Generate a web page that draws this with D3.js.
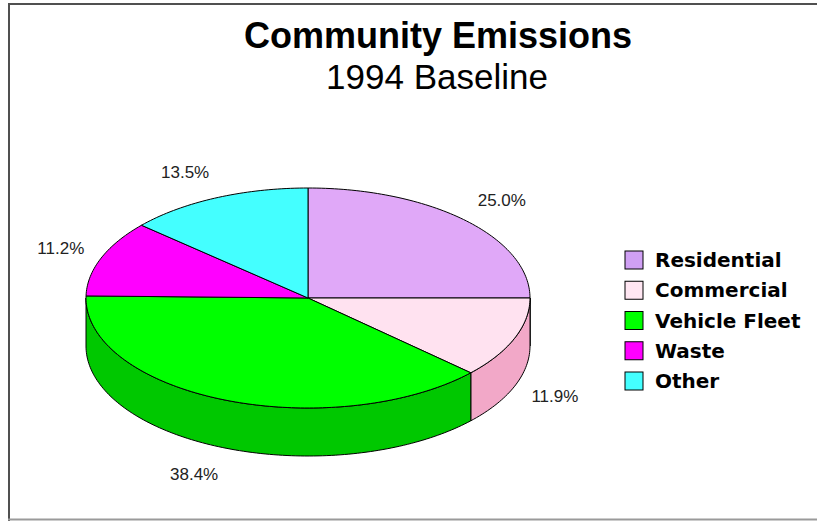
<!DOCTYPE html>
<html lang="en">
<head>
<meta charset="utf-8">
<title>Community Emissions</title>
<style>
body{
  margin: 0;
  background: #fff;
}
.title{
  font: bold 36px "Liberation Sans", Arial, sans-serif;
  text-anchor: middle;
}
.subtitle{
  font: 35px "Liberation Sans", Arial, sans-serif;
  text-anchor: middle;
}
.pct{
  font: 17px "Liberation Sans", Arial, sans-serif;
  fill: #222;
}
.legend text{
  font: bold 20px "DejaVu Sans", sans-serif;
}
</style>
</head>
<body>
<div id="chart"></div>
<script src="https://cdn.jsdelivr.net/npm/d3@7"></script>
<script>
// data
var categories = ["Residential", "Commercial", "Vehicle Fleet", "Waste", "Other"];
var shares = [25.0, 11.9, 38.4, 11.2, 13.5];
var pctLabels = ["25.0%", "11.9%", "38.4%", "11.2%", "13.5%"];
var topColors = ["#e0a8f8", "#ffe2f0", "#00ff00", "#ff00ff", "#44ffff"];
var sideColors = ["#b884d0", "#f2a8c8", "#00c800", "#c800c8", "#30d0d0"];
var swatchColors = ["#d0a0f4", "#ffe6f2", "#00ff00", "#ff00ff", "#44ffff"];

var W = 817, H = 521;
var cx = 308, cy = 298, rx = 222, ry = 110, depth = 48;

var svg = d3.select("#chart").append("svg")
  .attr("width", W)
  .attr("height", H);

// frame
svg.append("line").attr("x1", 8).attr("x2", W).attr("y1", 4).attr("y2", 4)
  .attr("stroke", "#505050").attr("stroke-width", 2);
svg.append("line").attr("x1", 9).attr("x2", 9).attr("y1", 4).attr("y2", H)
  .attr("stroke", "#505050").attr("stroke-width", 2);
svg.append("line").attr("x1", 8).attr("x2", W).attr("y1", 519.5).attr("y2", 519.5)
  .attr("stroke", "#9a9a9a").attr("stroke-width", 2);

svg.append("text").attr("class", "title")
  .attr("x", 438).attr("y", 48).text("Community Emissions");
svg.append("text").attr("class", "subtitle")
  .attr("x", 437).attr("y", 89).text("1994 Baseline");

// ellipse mapping through scales
var xS = d3.scaleLinear().domain([-1, 1]).range([cx - rx, cx + rx]);
var yS = d3.scaleLinear().domain([-1, 1]).range([cy + ry, cy - ry]);

var arcs = d3.pie().sort(null).value((d) => d)(shares);

function rim(a0, a1, dy) {
  var n = Math.max(2, Math.ceil((a1 - a0) / 0.02));
  return d3.range(n + 1).map((i) => {
    var a = a0 + (a1 - a0) * i / n;
    return [xS(Math.sin(a)), yS(Math.cos(a)) + dy];
  });
}
var line = d3.line();

// side walls (front half only)
var sideG = svg.append("g");
arcs.forEach((d, i) => {
  var a0 = Math.max(d.startAngle, Math.PI / 2);
  var a1 = Math.min(d.endAngle, Math.PI * 1.5);
  if (a0 >= a1) return;
  var pts = rim(a0, a1, 0).concat(rim(a0, a1, depth).reverse());
  sideG.append("path")
    .attr("d", line(pts) + "Z")
    .attr("fill", sideColors[i])
    .attr("stroke", "#000")
    .attr("stroke-width", 1);
});

// top face
var faceG = svg.append("g");
arcs.forEach((d, i) => {
  var pts = [[xS(0), yS(0)]].concat(rim(d.startAngle, d.endAngle, 0));
  faceG.append("path")
    .attr("d", line(pts) + "Z")
    .attr("fill", topColors[i])
    .attr("stroke", "#000")
    .attr("stroke-width", 1);
});

// percentage labels
var lx = d3.scaleLinear().domain([-1, 1]).range([cx - rx - 18, cx + rx + 18]);
var ly = d3.scaleLinear().domain([-1, 1]).range([cy + ry + 28, cy - ry - 28]);
arcs.forEach((d, i) => {
  var m = (d.startAngle + d.endAngle) / 2;
  var s = Math.sin(m), c = Math.cos(m);
  svg.append("text").attr("class", "pct")
    .attr("x", lx(s))
    .attr("y", ly(c) + (c < 0 ? depth : 0))
    .attr("dy", "0.35em")
    .attr("text-anchor", s > 0.3 ? "start" : (s < -0.3 ? "end" : "middle"))
    .text(pctLabels[i]);
});

// legend
var legY = d3.scalePoint().domain(categories).range([260, 381]);
var legend = svg.append("g").attr("class", "legend");
var rows = legend.selectAll("g").data(categories).enter().append("g")
  .attr("transform", (d) => `translate(625, ${legY(d)})`);
rows.append("rect")
  .attr("x", 0).attr("y", -9).attr("width", 18).attr("height", 18)
  .attr("fill", (d, i) => swatchColors[i])
  .attr("stroke", "#000").attr("stroke-width", 1);
rows.append("text")
  .attr("x", 30).attr("y", 0).attr("dy", "0.36em")
  .text((d) => d);
</script>
</body>
</html>
